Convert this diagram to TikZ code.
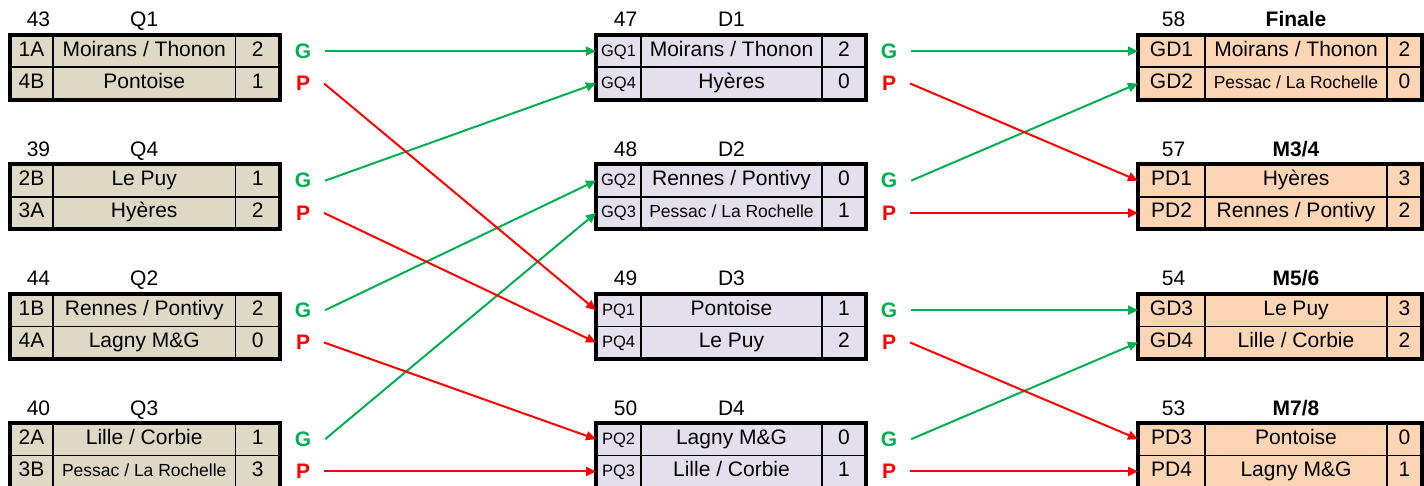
\documentclass[tikz,border=0pt]{standalone}
\usepackage{fontspec}
\setmainfont{Liberation Sans}
\usetikzlibrary{arrows.meta, positioning}

\definecolor{qfill}{HTML}{DDD9C4}
\definecolor{dfill}{HTML}{E4DFEC}
\definecolor{ffill}{HTML}{FCD5B4}
\definecolor{wingreen}{HTML}{00B050}
\definecolor{losered}{HTML}{FF0000}

\newcommand{\smallname}[1]{{\fontsize{17.5}{17.5}\selectfont #1}}

\tikzset{
  cell/.style={draw, line width=1.6pt, anchor=north west, inner sep=0pt, outer sep=0pt,
    minimum height=32.3pt, text height=15pt, text depth=5pt,
    font=\fontsize{21}{21}\selectfont},
  frame/.style={line width=4pt},
  hdr/.style={anchor=base, inner sep=0pt, font=\fontsize{21}{21}\selectfont},
  gmark/.style={inner sep=0pt, outer xsep=14pt, text=wingreen, font=\fontsize{21}{21}\selectfont\bfseries},
  pmark/.style={gmark, text=losered},
  greenarrow/.style={wingreen, line width=2pt, -{Triangle[length=10pt,width=9pt]}},
  redarrow/.style={greenarrow, losered},
}

\begin{document}
\begin{tikzpicture}[x=1pt, y=-1pt]
\useasboundingbox (0,0) rectangle (1424,486);

% Quarts de finale, left column
\foreach \tb/\yy/\nr/\codeA/\nameA/\scoreA/\codeB/\nameB/\scoreB in {
  Q1/35/43/1A/{Moirans / Thonon}/2/4B/Pontoise/1,
  Q4/164.5/39/2B/Le Puy/1/3A/Hyères/2,
  Q2/294/44/1B/{Rennes / Pontivy}/2/4A/Lagny M\&G/0,
  Q3/423/40/2A/{Lille / Corbie}/1/3B/{\smallname{Pessac / La Rochelle}}/3}
{
    \node[cell, fill=qfill, minimum width=43pt] (\tb-ca) at (10,\yy) {\codeA};
    \node[cell, fill=qfill, minimum width=182.5pt] (\tb-na) at (\tb-ca.north east) {\nameA};
    \node[cell, fill=qfill, minimum width=44.5pt] (\tb-sa) at (\tb-na.north east) {\scoreA};
    \node[cell, fill=qfill, minimum width=43pt] (\tb-cb) at (\tb-ca.south west) {\codeB};
    \node[cell, fill=qfill, minimum width=182.5pt] (\tb-nb) at (\tb-cb.north east) {\nameB};
    \node[cell, fill=qfill, minimum width=44.5pt] (\tb-sb) at (\tb-nb.north east) {\scoreB};
    \draw[frame] (\tb-ca.north west) rectangle (\tb-sb.south east);
    \node[hdr] (\tb-nr) at ([xshift=7pt, yshift=8pt]\tb-ca.north) {\nr};
    \node[hdr] (\tb-title) at ([yshift=8pt]\tb-na.north) {\tb};
    \node[gmark] (\tb-g) at ([xshift=23pt]\tb-sa.east) {G};
    \node[pmark] (\tb-p) at ([xshift=23pt]\tb-sb.east) {P};
}

% Demi-finales, middle column
\foreach \tb/\yy/\nr/\codeA/\nameA/\scoreA/\codeB/\nameB/\scoreB in {
  D1/35/47/GQ1/{Moirans / Thonon}/2/GQ4/Hyères/0,
  D2/164.5/48/GQ2/{Rennes / Pontivy}/0/GQ3/{\smallname{Pessac / La Rochelle}}/1,
  D3/294/49/PQ1/Pontoise/1/PQ4/Le Puy/2,
  D4/423/50/PQ2/Lagny M\&G/0/PQ3/{Lille / Corbie}/1}
{
    \node[cell, fill=dfill, minimum width=45pt, font=\fontsize{16.5}{16.5}\selectfont] (\tb-ca) at (596,\yy) {\codeA};
    \node[cell, fill=dfill, minimum width=181pt] (\tb-na) at (\tb-ca.north east) {\nameA};
    \node[cell, fill=dfill, minimum width=44pt] (\tb-sa) at (\tb-na.north east) {\scoreA};
    \node[cell, fill=dfill, minimum width=45pt, font=\fontsize{16.5}{16.5}\selectfont] (\tb-cb) at (\tb-ca.south west) {\codeB};
    \node[cell, fill=dfill, minimum width=181pt] (\tb-nb) at (\tb-cb.north east) {\nameB};
    \node[cell, fill=dfill, minimum width=44pt] (\tb-sb) at (\tb-nb.north east) {\scoreB};
    \draw[frame] (\tb-ca.north west) rectangle (\tb-sb.south east);
    \node[hdr] (\tb-nr) at ([xshift=7pt, yshift=8pt]\tb-ca.north) {\nr};
    \node[hdr] (\tb-title) at ([yshift=8pt]\tb-na.north) {\tb};
    \node[gmark] (\tb-g) at ([xshift=23pt]\tb-sa.east) {G};
    \node[pmark] (\tb-p) at ([xshift=23pt]\tb-sb.east) {P};
}

% Finales and places, right column
\foreach \tb/\ttl/\yy/\nr/\codeA/\nameA/\scoreA/\codeB/\nameB/\scoreB in {
  Fin/Finale/35/58/GD1/{Moirans / Thonon}/2/GD2/{\smallname{Pessac / La Rochelle}}/0,
  M34/{M3/4}/164.5/57/PD1/Hyères/3/PD2/{Rennes / Pontivy}/2,
  M56/{M5/6}/294/54/GD3/Le Puy/3/GD4/{Lille / Corbie}/2,
  M78/{M7/8}/423/53/PD3/Pontoise/0/PD4/Lagny M\&G/1}
{
    \node[cell, fill=ffill, minimum width=67pt] (\tb-ca) at (1138,\yy) {\codeA};
    \node[cell, fill=ffill, minimum width=182pt] (\tb-na) at (\tb-ca.north east) {\nameA};
    \node[cell, fill=ffill, minimum width=35pt] (\tb-sa) at (\tb-na.north east) {\scoreA};
    \node[cell, fill=ffill, minimum width=67pt] (\tb-cb) at (\tb-ca.south west) {\codeB};
    \node[cell, fill=ffill, minimum width=182pt] (\tb-nb) at (\tb-cb.north east) {\nameB};
    \node[cell, fill=ffill, minimum width=35pt] (\tb-sb) at (\tb-nb.north east) {\scoreB};
    \draw[frame] (\tb-ca.north west) rectangle (\tb-sb.south east);
    \node[hdr] (\tb-nr) at ([xshift=2pt, yshift=8pt]\tb-ca.north) {\nr};
    \node[hdr, font=\fontsize{21}{21}\selectfont\bfseries] (\tb-title) at ([yshift=8pt]\tb-na.north) {\ttl};
}

% Quarts -> demies
\foreach \from/\to in {Q1/D1-ca, Q4/D1-cb, Q2/D2-ca, Q3/D2-cb}
    \draw[greenarrow] (\from-g.east) -- (\to.west);
\foreach \from/\to in {Q1/D3-ca, Q4/D3-cb, Q2/D4-ca, Q3/D4-cb}
    \draw[redarrow] (\from-p.east) -- (\to.west);

% Demies -> finales
\foreach \from/\to in {D1/Fin-ca, D2/Fin-cb, D3/M56-ca, D4/M56-cb}
    \draw[greenarrow] (\from-g.east) -- (\to.west);
\foreach \from/\to in {D1/M34-ca, D2/M34-cb, D3/M78-ca, D4/M78-cb}
    \draw[redarrow] (\from-p.east) -- (\to.west);

\end{tikzpicture}
\end{document}
